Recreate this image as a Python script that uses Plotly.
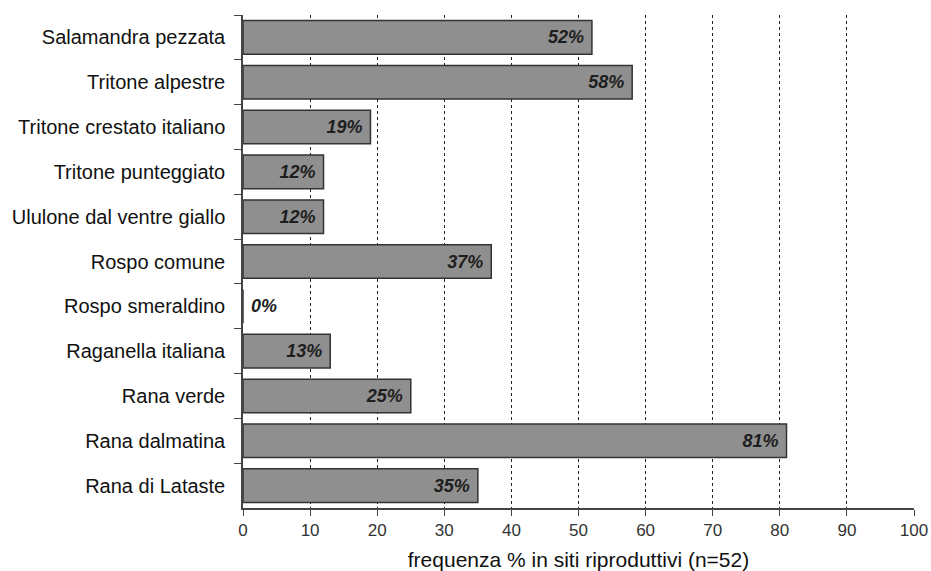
import plotly.graph_objects as go

species = ["Salamandra pezzata", "Tritone alpestre", "Tritone crestato italiano",
           "Tritone punteggiato", "Ululone dal ventre giallo", "Rospo comune",
           "Rospo smeraldino", "Raganella italiana", "Rana verde", "Rana dalmatina",
           "Rana di Lataste"]
freq = [52, 58, 19, 12, 12, 37, 0, 13, 25, 81, 35]
x_ticks = [0, 10, 20, 30, 40, 50, 60, 70, 80, 90, 100]

labels = [f"{v}%\u00a0" if v > 0 else f"\u00a0{v}%" for v in freq]
positions = ["inside" if v > 0 else "outside" for v in freq]

fig = go.Figure(go.Bar(
    x=freq, y=species, orientation="h",
    marker=dict(color="#8f8f8f", line=dict(color="#333333", width=1.5)),
    text=labels, textposition=positions, insidetextanchor="end",
    textfont=dict(family="Liberation Sans, Arial", size=18, color="#1e1e1e", weight="bold", style="italic"),
    constraintext="none", cliponaxis=False,
))

fig.update_layout(
    width=931, height=571,
    margin=dict(l=243, r=17, t=15, b=63),
    plot_bgcolor="white", paper_bgcolor="white",
    bargap=0.25, showlegend=False,
    font=dict(family="Liberation Sans, Arial", color="#111111"),
)
fig.update_xaxes(
    range=[0, 100], tickvals=x_ticks, showgrid=True, automargin=False,
    gridcolor="#222222", griddash="dot", gridwidth=1,
    showline=True, linecolor="#444444", linewidth=1.5,
    ticks="outside", ticklen=6, tickcolor="#444444", ticklabelstandoff=0,
    tickfont=dict(size=17, color="#333333", family="Liberation Sans Narrow, Liberation Sans, Arial"),
    title=dict(text="frequenza % in siti riproduttivi (n=52)", font=dict(size=21, color="#111111"), standoff=22),
    zeroline=False,
)
fig.update_yaxes(
    categoryorder="array", categoryarray=species, autorange="reversed", automargin=False,
    showline=True, linecolor="#444444", linewidth=1.5,
    ticks="outside", ticklen=7, tickcolor="#444444", tickson="boundaries",
    ticklabelstandoff=12,
    tickfont=dict(size=20, color="#111111"), showgrid=False,
)

fig.write_html("out.html")
